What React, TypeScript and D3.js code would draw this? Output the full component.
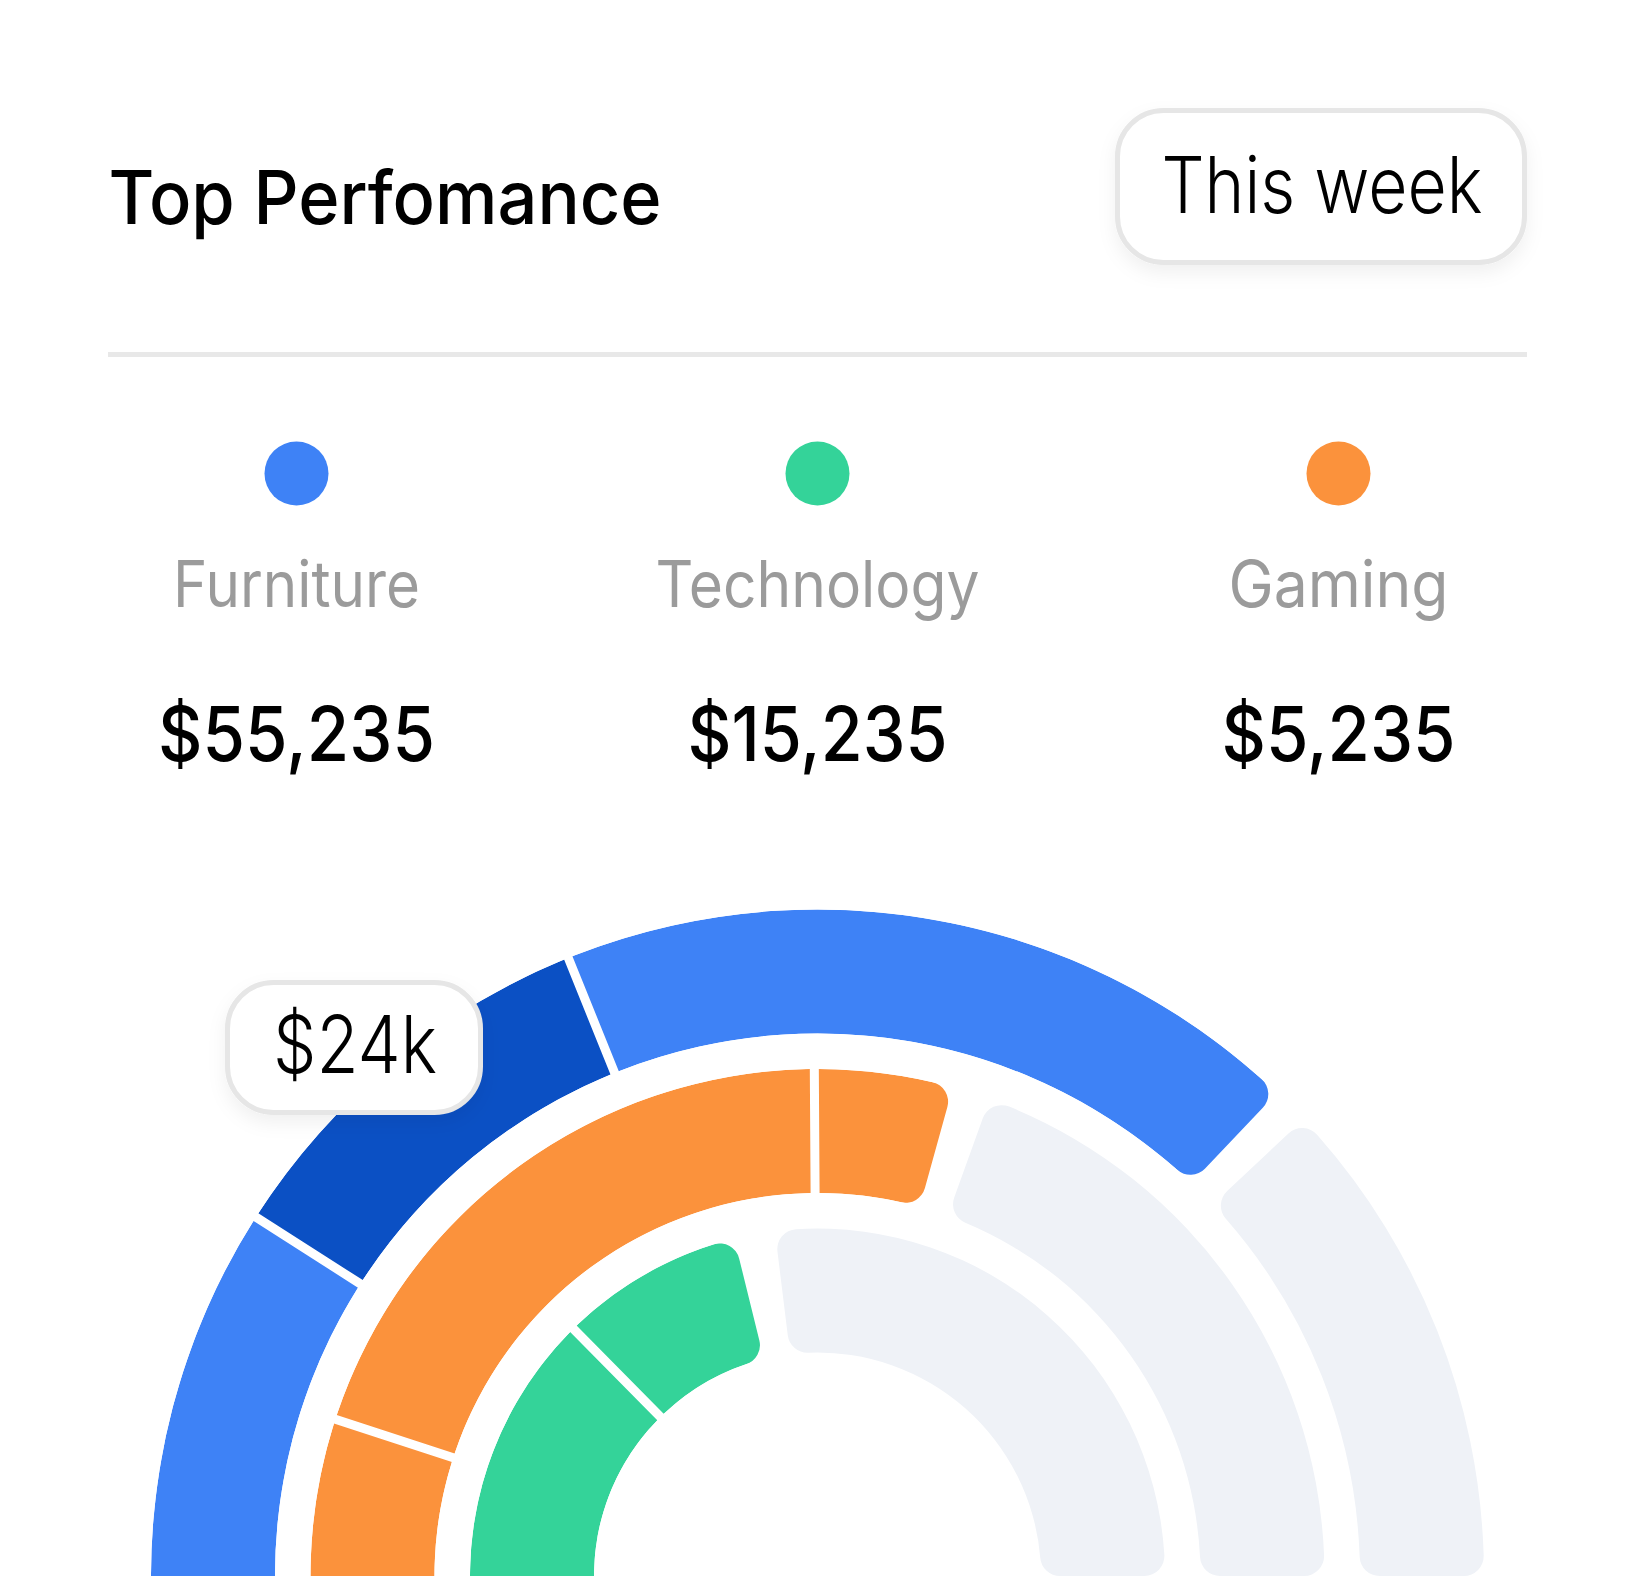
import React from "react";
import * as d3 from "d3";

const title = "Top Perfomance";
const periodLabel = "This week";
const tooltipLabel = "$24k";

const legendNames = ["Furniture", "Technology", "Gaming"];
const legendValues = ["$55,235", "$15,235", "$5,235"];
const legendColors = ["#3E82F6", "#34D399", "#FB923C"];

// rings, inner to outer
const ringOrder = ["Technology", "Gaming", "Furniture"];

// segment shares of the half-circle (0..100)
const furnitureSegments = [18.1, 19.7, 36.4];
const gamingSegments = [10.0, 39.8, 8.8];
const technologySegments = [25.2, 17.1];

const furnitureColors = ["#3E82F6", "#0B50C4", "#3E82F6"];
const gamingColors = ["#FB923C", "#FB923C", "#FB923C"];
const technologyColors = ["#34D399", "#34D399"];

const trackColor = "#EFF2F7";

// measured rendered text widths (px) of the reference typeface
const labelWidths = [247, 324, 220];
const valueWidths = [277, 260, 234];

export default function App() {
  const W = 1635;
  const H = 1576;
  const cx = 817.5;
  const cy = 1576;

  const angle = d3.scaleLinear().domain([0, 100]).range([-Math.PI / 2, Math.PI / 2]);
  const ring = d3.scaleBand<string>().domain(ringOrder).range([223.5, 666.5]).paddingInner(0.2226);
  const legendX = d3.scalePoint<string>().domain(legendNames).range([296.5, 1338.5]);

  const rings = [
    { name: "Furniture", values: furnitureSegments, colors: furnitureColors },
    { name: "Gaming", values: gamingSegments, colors: gamingColors },
    { name: "Technology", values: technologySegments, colors: technologyColors },
  ];

  const trackGap = 34;
  const corner = 20;
  const extend = 0.25;

  const rounded = d3.arc<any>().cornerRadius(corner);
  const segArc = d3.arc<any>().padRadius(100).padAngle(0.09);

  const font = "Inter, 'Noto Sans', sans-serif";
  const fit = { lengthAdjust: "spacingAndGlyphs" as const };

  return (
    <svg
      width={W}
      height={H}
      viewBox={`0 0 ${W} ${H}`}
      style={{ position: "absolute", left: 0, top: 0, display: "block", background: "#fff" }}
    >
      <defs>
        <filter id="shadow" x="-20%" y="-20%" width="140%" height="160%">
          <feDropShadow dx="0" dy="8" stdDeviation="9" floodColor="#000" floodOpacity="0.06" />
        </filter>
        {rings.map((r) => {
          const r0 = ring(r.name)!;
          const r1 = r0 + ring.bandwidth();
          const total = d3.sum(r.values);
          const p = rounded({
            innerRadius: r0,
            outerRadius: r1,
            startAngle: angle(0) - extend,
            endAngle: angle(total),
          });
          return (
            <clipPath id={`clip-${r.name}`} key={r.name}>
              <path d={p || ""} transform={`translate(${cx},${cy})`} />
            </clipPath>
          );
        })}
      </defs>

      {/* Header */}
      <text x={108.5} y={224} fontFamily={font} fontSize={74} fontWeight={500} fill="#000" textLength={553} {...fit}>
        {title}
      </text>
      <g filter="url(#shadow)">
        <rect x={1117.5} y={110.5} width={407} height={152} rx={46} fill="#fff" stroke="#E6E6E6" strokeWidth={5} />
      </g>
      <text x={1322} y={213} textAnchor="middle" fontFamily={font} fontSize={78} fontWeight={300} fill="#000" textLength={321} {...fit}>
        {periodLabel}
      </text>
      <line x1={108} x2={1527} y1={354.5} y2={354.5} stroke="#E8E8E8" strokeWidth={5} />

      {/* Legend */}
      {legendNames.map((n, i) => (
        <g key={n}>
          <circle cx={legendX(n)} cy={473.5} r={32} fill={legendColors[i]} />
          <text x={legendX(n)} y={607} textAnchor="middle" fontFamily={font} fontSize={64} fill="#9B9B9B" textLength={labelWidths[i]} {...fit}>
            {n}
          </text>
          <text x={legendX(n)} y={761} textAnchor="middle" fontFamily={font} fontSize={75} fontWeight={500} fill="#000" textLength={valueWidths[i]} {...fit}>
            {legendValues[i]}
          </text>
        </g>
      ))}

      {/* Gauge */}
      <g>
        {rings.map((r) => {
          const r0 = ring(r.name)!;
          const r1 = r0 + ring.bandwidth();
          const mid = (r0 + r1) / 2;
          const total = d3.sum(r.values);
          const endA = angle(total);
          const cum = d3.cumsum(r.values);
          const track = rounded({
            innerRadius: r0,
            outerRadius: r1,
            startAngle: endA + trackGap / mid,
            endAngle: angle(100),
          });
          return (
            <g key={r.name}>
              <path d={track || ""} transform={`translate(${cx},${cy})`} fill={trackColor} />
              <g clipPath={`url(#clip-${r.name})`}>
                {r.values.map((v, i) => {
                  const s = i === 0 ? angle(0) - extend : angle(cum[i - 1]);
                  const e = i === r.values.length - 1 ? endA + 0.1 : angle(cum[i]);
                  const d = segArc({ innerRadius: r0, outerRadius: r1, startAngle: s, endAngle: e });
                  return <path key={i} d={d || ""} transform={`translate(${cx},${cy})`} fill={r.colors[i]} />;
                })}
              </g>
            </g>
          );
        })}
      </g>

      {/* Tooltip */}
      <g filter="url(#shadow)">
        <rect x={227.5} y={982.5} width={253} height={130} rx={46} fill="#fff" stroke="#E6E6E6" strokeWidth={5} />
      </g>
      <text x={355} y={1073} textAnchor="middle" fontFamily={font} fontSize={80} fontWeight={300} fill="#000" textLength={164} {...fit}>
        {tooltipLabel}
      </text>
    </svg>
  );
}
